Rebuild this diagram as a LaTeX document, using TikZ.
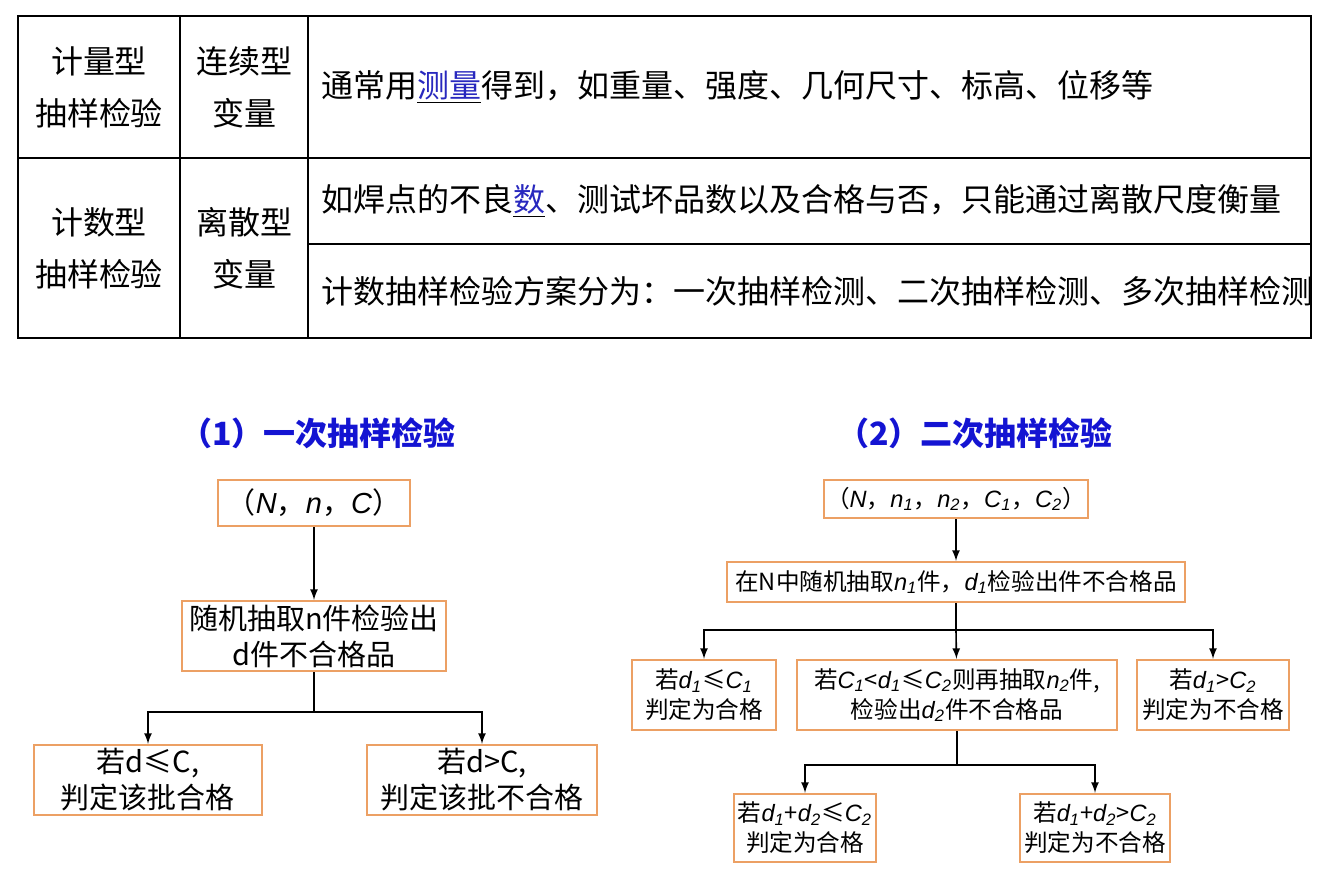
\documentclass[tikz,border=0pt]{standalone}
\usepackage{fontspec}
\setmainfont{Noto Sans CJK SC}
\newfontfamily\itf{Liberation Sans}
\usepackage{tikz}
\usetikzlibrary{arrows,calc}
\definecolor{boxorange}{RGB}{236,160,100}
\definecolor{titleblue}{RGB}{20,20,210}
\definecolor{linkblue}{RGB}{40,40,190}
\newcommand{\vi}[1]{{\itf\itshape #1}}
\newcommand{\sub}[1]{\textsubscript{\itf\itshape #1}}
\newcommand{\lnk}[1]{\underline{\textcolor{linkblue}{#1}}}
\tikzstyle{line} = [draw, -latex, thick]
\tikzstyle{block} = [draw=boxorange, line width=1.2pt, rectangle, text centered, align=center, inner sep=1pt]
\tikzstyle{cell} = [font=\fontsize{16pt}{26pt}\selectfont, align=center]
\tikzstyle{title} = [font=\fontsize{16pt}{18pt}\selectfont\bfseries, text=titleblue]

\begin{document}
\begin{tikzpicture}[x=0.5pt, y=-0.5pt]
        \useasboundingbox (0,0) rectangle (1324,882);
        % table
        \draw[thick] (18,16) rectangle (1311,338);
        \draw[thick] (18,158) -- (1311,158);
        \draw[thick] (180,16) -- (180,338);
        \draw[thick] (308,16) -- (308,338);
        \draw[thick] (308,244) -- (1311,244);
        \node[cell] (varkind) at (99,87) {计量型\\抽样检验};
        \node[cell] (vartype) at (244,87) {连续型\\变量};
        \node[cell, anchor=west] (vartext) at (314,87) {通常用\lnk{测量}得到，如重量、强度、几何尺寸、标高、位移等};
        \node[cell] (cntkind) at (99,248) {计数型\\抽样检验};
        \node[cell] (cnttype) at (244,248) {离散型\\变量};
        \node[cell, anchor=west] (cnttext) at (314,201) {如焊点的不良\lnk{数}、测试坏品数以及合格与否，只能通过离散尺度衡量};
        \node[cell, anchor=west] (cntplan) at (314,291) {计数抽样检验方案分为：一次抽样检测、二次抽样检测、多次抽样检测};
        % single sampling
        \begin{scope}[every node/.append style={font=\fontsize{14.5pt}{18pt}\selectfont}]
        \node[title] (onetitle) at (318,433) {（1）一次抽样检验};
        \node[block, minimum width=96pt, minimum height=23pt] (oneplan) at (314,503) {（\vi{N}，\vi{n}，\vi{C}）};
        \node[block, minimum width=132pt, minimum height=35pt] (onedraw) at (314,636) {随机抽取n件检验出\\d件不合格品};
        \node[block, minimum width=114pt, minimum height=35pt] (oneok) at (148,780) {若d≤C,\\判定该批合格};
        \node[block, minimum width=115pt, minimum height=35pt] (onebad) at (482,780) {若d>C,\\判定该批不合格};
        \end{scope}
        \path[line] (oneplan) -- (onedraw);
        \coordinate (onefork) at (314,712);
        \draw[thick] (onedraw) -- (onefork);
        \path[line] (onefork) -| (oneok);
        \path[line] (onefork) -| (onebad);
        % double sampling
        \begin{scope}[every node/.append style={font=\fontsize{11.8pt}{15pt}\selectfont}]
        \node[title] (twotitle) at (975,433) {（2）二次抽样检验};
        \node[block, minimum width=128pt, minimum height=19pt] (twoplan) at (956,499) {（\vi{N}，\vi{n}\sub{1}，\vi{n}\sub{2}，\vi{C}\sub{1}，\vi{C}\sub{2}）};
        \node[block, minimum width=229pt, minimum height=20pt] (twodraw) at (956,582) {在N中随机抽取\vi{n}\sub{1}件，\vi{d}\sub{1}检验出件不合格品};
        \node[block, minimum width=72pt, minimum height=35pt] (twook) at (704,695) {若\vi{d}\sub{1}≤\vi{C}\sub{1}\\判定为合格};
        \node[block, minimum width=160pt, minimum height=35pt] (twomore) at (957,695) {若\vi{C}\sub{1}<\vi{d}\sub{1}≤\vi{C}\sub{2}则再抽取\vi{n}\sub{2}件,\\检验出\vi{d}\sub{2}件不合格品};
        \node[block, minimum width=76pt, minimum height=35pt] (twobad) at (1213,695) {若\vi{d}\sub{1}>\vi{C}\sub{2}\\判定为不合格};
        \node[block, minimum width=71pt, minimum height=34pt] (sumok) at (805,828) {若\vi{d}\sub{1}+\vi{d}\sub{2}≤\vi{C}\sub{2}\\判定为合格};
        \node[block, minimum width=75pt, minimum height=34pt] (sumbad) at (1095,828) {若\vi{d}\sub{1}+\vi{d}\sub{2}>\vi{C}\sub{2}\\判定为不合格};
        \end{scope}
        \path[line] (twoplan) -- (twodraw);
        \coordinate (twofork) at (956,630);
        \draw[thick] (twodraw) -- (twofork);
        \path[line] (twofork) -| (twook);
        \path[line] (twofork) -- (twomore);
        \path[line] (twofork) -| (twobad);
        \coordinate (sumfork) at (957,765);
        \draw[thick] (twomore) -- (sumfork);
        \path[line] (sumfork) -| (sumok);
        \path[line] (sumfork) -| (sumbad);
    \end{tikzpicture}
\end{document}
